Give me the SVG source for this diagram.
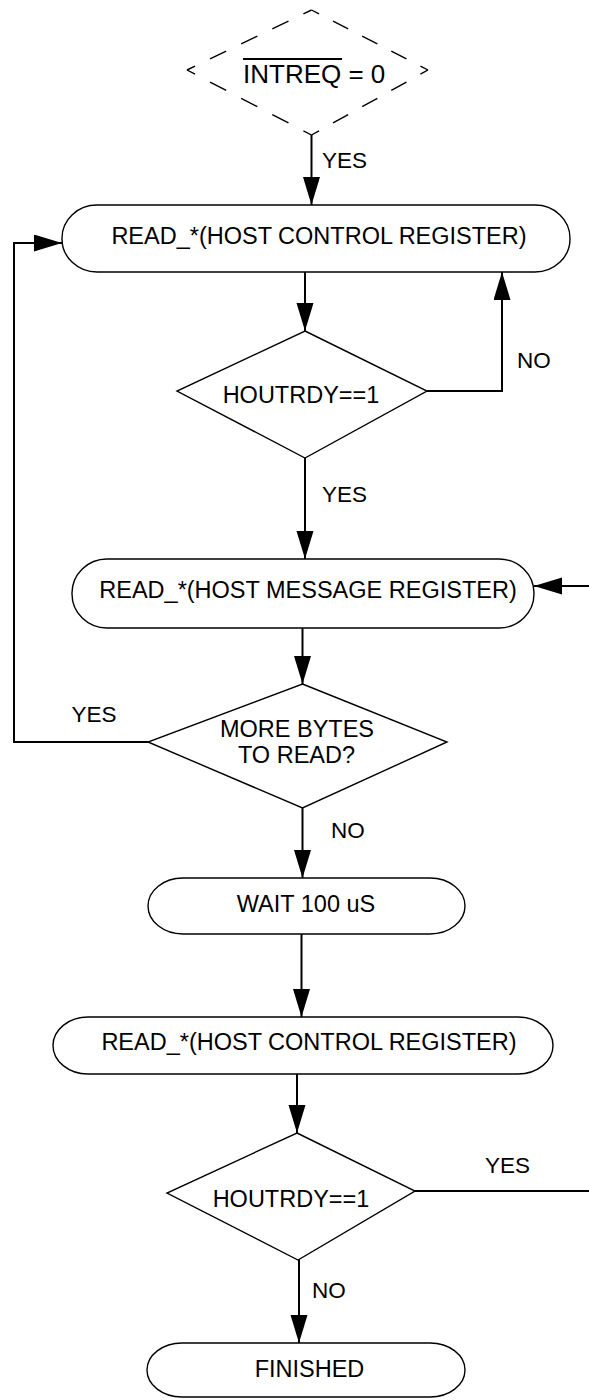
<svg xmlns="http://www.w3.org/2000/svg" width="589" height="1400" viewBox="0 0 589 1400">
<style>
.shape{fill:#fff;stroke:#000;stroke-width:1.4}
.dash{fill:none;stroke:#000;stroke-width:1.4;stroke-dasharray:6.5 12 13 12 13 12 13 12 6.5}
.conn{fill:none;stroke:#000;stroke-width:2}
text{font-family:"Liberation Sans",Arial,sans-serif;fill:#000}
.t{font-size:23.5px;text-anchor:middle}
.lbl{font-size:22.5px}
</style>
<defs>
<marker id="ah" markerUnits="userSpaceOnUse" markerWidth="30" markerHeight="18" refX="28" refY="8.5" orient="auto">
<path d="M0,0 L28,8.5 L0,17 Z" fill="#000"/>
</marker>
</defs>
<g id="connectors">
<path class="conn" d="M311.5,135 V205" marker-end="url(#ah)"/>
<path class="conn" d="M305,272 V331" marker-end="url(#ah)"/>
<path class="conn" d="M427,391 H502 V272" marker-end="url(#ah)"/>
<path class="conn" d="M305,458 V559" marker-end="url(#ah)"/>
<path class="conn" d="M589,586 H534" marker-end="url(#ah)"/>
<path class="conn" d="M302.5,628 V684" marker-end="url(#ah)"/>
<path class="conn" d="M148,742 H14 V243 H62" marker-end="url(#ah)"/>
<path class="conn" d="M302.5,808 V878" marker-end="url(#ah)"/>
<path class="conn" d="M301.5,934 V1017" marker-end="url(#ah)"/>
<path class="conn" d="M297,1074 V1133" marker-end="url(#ah)"/>
<path class="conn" d="M415,1191 H589"/>
<path class="conn" d="M299,1259 V1343" marker-end="url(#ah)"/>
<text class="lbl" x="322" y="168">YES</text>
<text class="lbl" x="517" y="368">NO</text>
<text class="lbl" x="322" y="502">YES</text>
<text class="lbl" x="71.5" y="722">YES</text>
<text class="lbl" x="331" y="838">NO</text>
<text class="lbl" x="485" y="1173">YES</text>
<text class="lbl" x="312" y="1298">NO</text>
</g>
<g id="start">
<path class="dash" pathLength="100" d="M187,70 L311.5,10"/>
<path class="dash" pathLength="100" d="M311.5,10 L428,70"/>
<path class="dash" pathLength="100" d="M428,70 L311.5,135"/>
<path class="dash" pathLength="100" d="M311.5,135 L187,70"/>
<text x="243" y="83" style="font-size:26px">INTREQ = 0</text>
<line x1="243" y1="59" x2="342" y2="59" stroke="#000" stroke-width="2"/>
</g>
<g id="readCtrl1">
<rect class="shape" x="62" y="205" width="508" height="67" rx="35" ry="33"/>
<text class="t" x="319" y="244">READ_*(HOST CONTROL REGISTER)</text>
</g>
<g id="houtrdy1">
<polygon class="shape" points="305,331 427,391 305,458 177,391"/>
<text class="t" x="301" y="403">HOUTRDY==1</text>
</g>
<g id="readMsg">
<rect class="shape" x="72" y="559" width="462" height="69" rx="35" ry="34"/>
<text class="t" x="308" y="598">READ_*(HOST MESSAGE REGISTER)</text>
</g>
<g id="moreBytes">
<polygon class="shape" points="302.5,684 447,742 302.5,808 148,742"/>
<text class="t" x="297" y="737">MORE BYTES</text>
<text class="t" x="296.5" y="763">TO READ?</text>
</g>
<g id="wait">
<rect class="shape" x="148" y="878" width="317" height="56" rx="35" ry="28"/>
<text class="t" x="306" y="912">WAIT 100 uS</text>
</g>
<g id="readCtrl2">
<rect class="shape" x="53" y="1017" width="500" height="57" rx="35" ry="28.5"/>
<text class="t" x="309" y="1050">READ_*(HOST CONTROL REGISTER)</text>
</g>
<g id="houtrdy2">
<polygon class="shape" points="297,1133 415,1191 298,1260 167,1193"/>
<text class="t" x="291" y="1207">HOUTRDY==1</text>
</g>
<g id="finished">
<rect class="shape" x="147" y="1343" width="318" height="54" rx="35" ry="27"/>
<text class="t" x="309.5" y="1377">FINISHED</text>
</g>
</svg>
